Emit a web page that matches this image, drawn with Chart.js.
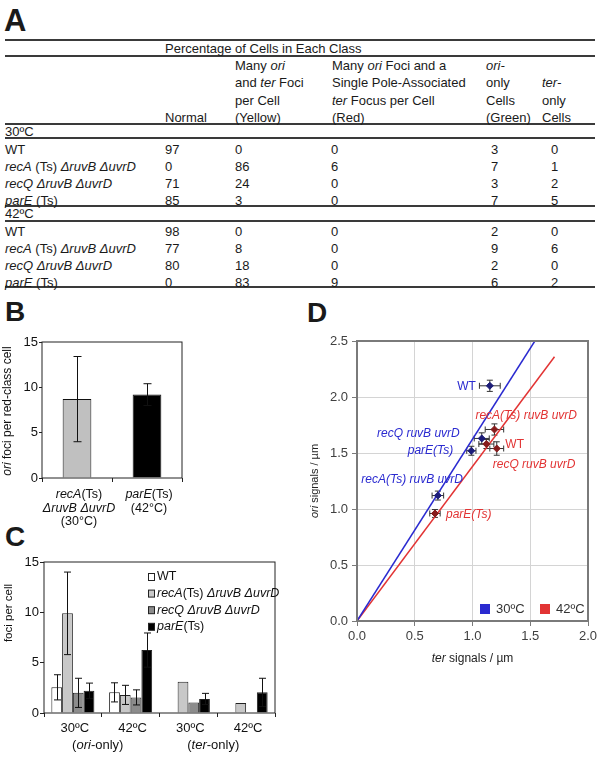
<!DOCTYPE html>
<html>
<head>
<meta charset="utf-8">
<title>ori / ter foci</title>
<script src="https://cdn.jsdelivr.net/npm/chart.js@4.4.1/dist/chart.umd.min.js"></script>
<style>
  body { margin: 0; background: #fff; }
  #page { position: relative; width: 601px; height: 757px; overflow: hidden;
          font-family: "Liberation Sans", Arial, sans-serif; color: #1a1a1a; }
  .panel { position: absolute; font-weight: bold; font-size: 28px; line-height: 28px; }
  .t { position: absolute; font-size: 13px; line-height: 17px; white-space: nowrap; }
  .rule { position: absolute; left: 5px; width: 590px; height: 2px; background: #3a3a3a; }
  canvas { position: absolute; left: 0; top: 0; }
</style>
</head>
<body>
<div id="page">
  <div class="panel" style="left:4px;top:5px;font-size:31px;line-height:31px">A</div>
  <div class="panel" style="left:5px;top:298px">B</div>
  <div class="panel" style="left:5px;top:523px">C</div>
  <div class="panel" style="left:307px;top:299px">D</div>
  <div id="tableA"></div>
  <canvas id="chartB" width="601" height="757"></canvas>
  <canvas id="chartC" width="601" height="757"></canvas>
  <canvas id="chartD" width="601" height="757"></canvas>
</div>
<script>
// ------------------- DATA -------------------
// text between underscores is set in italics

// A: percentage of cells in each class
const classHeads = [
  ['Normal'],
  ['Many _ori_', 'and _ter_ Foci', 'per Cell', '(Yellow)'],
  ['Many _ori_ Foci and a', 'Single Pole-Associated', '_ter_ Focus per Cell', '(Red)'],
  ['_ori-_', 'only', 'Cells', '(Green)'],
  ['_ter-_', 'only', 'Cells']
];
const tableStrains = ['WT', '_recA_ (Ts) _ΔruvB ΔuvrD_', '_recQ ΔruvB ΔuvrD_', '_parE_ (Ts)'];
const temps = ['30ºC', '42ºC'];
const normal30 = [97, 0, 71, 85];
const yellow30 = [0, 86, 24, 3];
const red30 = [0, 6, 0, 0];
const oriOnly30 = [3, 7, 3, 7];
const terOnly30 = [0, 1, 2, 5];
const normal42 = [98, 77, 80, 0];
const yellow42 = [0, 8, 18, 83];
const red42 = [0, 0, 0, 9];
const oriOnly42 = [2, 9, 2, 6];
const terOnly42 = [0, 6, 0, 2];

// B: ori foci per red-class cell
const bLabels = [['_recA_(Ts)', '_ΔruvB ΔuvrD_', '(30°C)'], ['_parE_(Ts)', '(42°C)']];
const bMeans = [8.7, 9.2];
const bErrors = [4.7, 1.2];

// C: foci per cell
const cTemps = ['30ºC', '42ºC', '30ºC', '42ºC'];
const cClasses = ['(_ori_-only)', '(_ter_-only)'];
const cSeries = ['WT', '_recA_(Ts) _ΔruvB ΔuvrD_', '_recQ ΔruvB ΔuvrD_', '_parE_(Ts)'];
const cWT = [2.55, 2.05, null, null];
const cRecA = [9.9, 1.8, 3.1, 1.0];
const cRecQ = [2.0, 1.55, 1.05, null];
const cParE = [2.2, 6.25, 1.4, 2.05];
const cWTErr = [1.25, 0.95, null, null];
const cRecAErr = [4.1, 0.95, null, null];
const cRecQErr = [1.45, 0.75, null, null];
const cParEErr = [0.77, 1.7, 0.55, 1.4];

// D: ori signals vs ter signals (order: WT, recA, recQ, parE)
const dLabels = ['WT', '_recA(Ts) ruvB uvrD_', '_recQ ruvB uvrD_', '_parE(Ts)_'];
const ter30 = [1.15, 0.70, 1.08, 0.99];
const ori30 = [2.10, 1.12, 1.63, 1.52];
const ter30Err = [0.09, 0.05, 0.065, 0.04];
const ori30Err = [0.05, 0.04, 0.05, 0.04];
const ter42 = [1.12, 1.19, 1.21, 0.675];
const ori42 = [1.58, 1.71, 1.54, 0.96];
const ter42Err = [0.065, 0.08, 0.06, 0.045];
const ori42Err = [0.04, 0.05, 0.06, 0.035];
const fitTer30 = [0, 1.54];
const fitOri30 = [0, 2.5];
const fitTer42 = [0, 1.71];
const fitOri42 = [0, 2.36];

// ------------------- TEXT HELPERS -------------------
const FONT = '"Liberation Sans", Arial, sans-serif';
Chart.defaults.font.family = FONT;
Chart.defaults.color = '#111';

function richHtml(s) { return String(s).replace(/_([^_]+)_/g, '<i>$1</i>'); }
function segs(s) { return String(s).split('_').map((t, i) => ({ t, it: i % 2 === 1 })).filter(p => p.t); }
function cfont(size, it) { return (it ? 'italic ' : '') + size + 'px ' + FONT; }
function richWidth(ctx, s, size) {
  let w = 0;
  segs(s).forEach(p => { ctx.font = cfont(size, p.it); w += ctx.measureText(p.t).width; });
  return w;
}
function drawRich(ctx, s, x, y, size, color, align) {
  let cx = x;
  const w = richWidth(ctx, s, size);
  if (align === 'center') cx -= w / 2;
  else if (align === 'right') cx -= w;
  ctx.save();
  ctx.fillStyle = color;
  ctx.textAlign = 'left';
  ctx.textBaseline = 'middle';
  segs(s).forEach(p => {
    ctx.font = cfont(size, p.it);
    ctx.fillText(p.t, cx, y);
    cx += ctx.measureText(p.t).width;
  });
  ctx.restore();
}
function drawRotated(ctx, s, x, y, size, color) {
  ctx.save();
  ctx.translate(x, y);
  ctx.rotate(-Math.PI / 2);
  drawRich(ctx, s, 0, 0, size, color, 'center');
  ctx.restore();
}

// ------------------- TABLE A -------------------
const tableEl = document.getElementById('tableA');
const headX = [165, 235, 332, 486, 542];
const valX = [165, 235, 331, 491, 551];
const ROW = 17.3;

function put(text, x, yc) {
  const d = document.createElement('div');
  d.className = 't';
  d.style.left = x + 'px';
  d.style.top = (yc - 8.5) + 'px';
  d.innerHTML = richHtml(text);
  tableEl.appendChild(d);
}
function rule(y) {
  const d = document.createElement('div');
  d.className = 'rule';
  d.style.top = y + 'px';
  tableEl.appendChild(d);
}

[39, 55, 123, 137, 205, 220, 286].forEach(rule);
put('Percentage of Cells in Each Class', 165, 48);
classHeads.forEach((lines, c) => {
  lines.forEach((ln, j) => put(ln, headX[c], 117.5 - (lines.length - 1 - j) * ROW));
});

const blocks = [
  { temp: temps[0], y: 131, cols: [normal30, yellow30, red30, oriOnly30, terOnly30] },
  { temp: temps[1], y: 213, cols: [normal42, yellow42, red42, oriOnly42, terOnly42] }
];
blocks.forEach(b => {
  put(b.temp, 5, b.y);
  tableStrains.forEach((s, r) => {
    const yc = b.y + 18 + r * ROW;
    put(s, 5, yc);
    b.cols.forEach((col, c) => put(String(col[r]), valX[c], yc));
  });
});

// ------------------- PLUGINS -------------------
const frame = {
  id: 'frame',
  afterDatasetsDraw(chart, args, opts) {
    const a = chart.chartArea, ctx = chart.ctx;
    ctx.save();
    ctx.strokeStyle = opts.color;
    ctx.lineWidth = opts.width;
    ctx.strokeRect(a.left, a.top, a.right - a.left, a.bottom - a.top);
    ctx.restore();
  }
};

const barErrors = {
  id: 'barErrors',
  afterDatasetsDraw(chart, args, opts) {
    const ctx = chart.ctx, ys = chart.scales.y;
    ctx.save();
    ctx.strokeStyle = '#111';
    ctx.lineWidth = 1;
    chart.data.datasets.forEach((ds, di) => {
      if (!ds.err) return;
      chart.getDatasetMeta(di).data.forEach((bar, i) => {
        const v = ds.data[i], e = ds.err[i];
        if (v == null || e == null) return;
        const x = Math.round(bar.x) + 0.5;
        const top = ys.getPixelForValue(v + e), bot = ys.getPixelForValue(v - e);
        ctx.beginPath();
        ctx.moveTo(x, top); ctx.lineTo(x, bot);
        ctx.moveTo(x - opts.cap, top); ctx.lineTo(x + opts.cap, top);
        ctx.moveTo(x - opts.cap, bot); ctx.lineTo(x + opts.cap, bot);
        ctx.stroke();
      });
    });
    ctx.restore();
  }
};

const xyErrors = {
  id: 'xyErrors',
  beforeDatasetsDraw(chart, args, opts) {
    const ctx = chart.ctx, xs = chart.scales.x, ys = chart.scales.y;
    ctx.save();
    ctx.strokeStyle = '#333';
    ctx.lineWidth = 1;
    chart.data.datasets.forEach((ds, di) => {
      if (!ds.xErr) return;
      ds.data.forEach((p, i) => {
        const px = xs.getPixelForValue(p.x), py = ys.getPixelForValue(p.y);
        const x1 = xs.getPixelForValue(p.x - ds.xErr[i]), x2 = xs.getPixelForValue(p.x + ds.xErr[i]);
        const y1 = ys.getPixelForValue(p.y - ds.yErr[i]), y2 = ys.getPixelForValue(p.y + ds.yErr[i]);
        ctx.beginPath();
        ctx.moveTo(x1, py); ctx.lineTo(x2, py);
        ctx.moveTo(x1, py - opts.cap); ctx.lineTo(x1, py + opts.cap);
        ctx.moveTo(x2, py - opts.cap); ctx.lineTo(x2, py + opts.cap);
        ctx.moveTo(px, y1); ctx.lineTo(px, y2);
        ctx.moveTo(px - opts.cap, y1); ctx.lineTo(px + opts.cap, y1);
        ctx.moveTo(px - opts.cap, y2); ctx.lineTo(px + opts.cap, y2);
        ctx.stroke();
      });
    });
    ctx.restore();
  }
};

// ------------------- CHART B -------------------
new Chart(document.getElementById('chartB').getContext('2d'), {
  type: 'bar',
  data: {
    labels: bLabels.map(l => l.join(' ').replace(/_/g, '')),
    datasets: [{
      data: bMeans,
      err: bErrors,
      backgroundColor: ['#c0c0c0', '#000'],
      borderColor: '#111',
      borderWidth: 1,
      barPercentage: 0.41,
      categoryPercentage: 1
    }]
  },
  options: {
    responsive: false,
    animation: false,
    events: [],
    layout: { padding: { left: 12, top: 342, right: 419, bottom: 275 } },
    plugins: {
      legend: { display: false },
      tooltip: { enabled: false },
      frame: { color: '#222', width: 1 },
      barErrors: { cap: 4 }
    },
    scales: {
      x: {
        grid: { drawOnChartArea: false, tickLength: 4, color: '#222' },
        border: { display: false },
        ticks: { display: false },
        afterFit: s => { s.height = 4; }
      },
      y: {
        min: 0, max: 15,
        ticks: { stepSize: 5, padding: 1, color: '#111', font: { size: 13 } },
        grid: { drawOnChartArea: false, tickLength: 3, color: '#222' },
        border: { display: false },
        afterFit: s => { s.width = 30; }
      }
    }
  },
  plugins: [frame, barErrors, {
    id: 'bText',
    afterDraw(chart) {
      const ctx = chart.ctx, meta = chart.getDatasetMeta(0);
      bLabels.forEach((lines, i) => {
        lines.forEach((ln, j) => drawRich(ctx, ln, meta.data[i].x + 2, 495 + j * 13.3, 12.5, '#111', 'center'));
      });
      drawRotated(ctx, '_ori_ foci per red-class cell', 8, 411, 12, '#111');
    }
  }]
});

// ------------------- CHART C -------------------
const cValues = [cWT, cRecA, cRecQ, cParE];
const cErrs = [cWTErr, cRecAErr, cRecQErr, cParEErr];
const cColors = ['#ffffff', '#c8c8c8', '#8c8c8c', '#000000'];

new Chart(document.getElementById('chartC').getContext('2d'), {
  type: 'bar',
  data: {
    labels: cTemps,
    datasets: cSeries.map((name, k) => ({
      label: name,
      data: cValues[k],
      err: cErrs[k],
      backgroundColor: cColors[k],
      borderColor: '#222',
      borderWidth: 1,
      barPercentage: 1,
      categoryPercentage: 0.745
    }))
  },
  options: {
    responsive: false,
    animation: false,
    events: [],
    layout: { padding: { left: 14, top: 562, right: 326, bottom: 40 } },
    plugins: {
      legend: { display: false },
      tooltip: { enabled: false },
      frame: { color: '#222', width: 1 },
      barErrors: { cap: 3.5 }
    },
    scales: {
      x: {
        grid: { drawOnChartArea: false, tickLength: 4, color: '#222' },
        border: { display: false },
        ticks: { display: false },
        afterFit: s => { s.height = 4; }
      },
      y: {
        min: 0, max: 15,
        ticks: { stepSize: 5, padding: 1, color: '#111', font: { size: 13 } },
        grid: { drawOnChartArea: false, tickLength: 4, color: '#222' },
        border: { display: false },
        afterFit: s => { s.width = 30; }
      }
    }
  },
  plugins: [frame, barErrors, {
    id: 'cText',
    afterDraw(chart) {
      const ctx = chart.ctx, xs = chart.scales.x;
      cTemps.forEach((t, i) => drawRich(ctx, t, xs.getPixelForValue(i) + 2, 728, 13, '#111', 'center'));
      cClasses.forEach((t, k) => {
        const mid = (xs.getPixelForValue(2 * k) + xs.getPixelForValue(2 * k + 1)) / 2;
        drawRich(ctx, t, mid - 4, 745, 13, '#111', 'center');
      });
      drawRotated(ctx, 'foci per cell', 9, 613, 11.5, '#111');
      // legend
      chart.data.datasets.forEach((ds, k) => {
        const y = 577 + k * 16.6;
        ctx.save();
        ctx.fillStyle = ds.backgroundColor;
        ctx.strokeStyle = '#222';
        ctx.lineWidth = 1;
        ctx.fillRect(148.5, y - 3.5, 6, 7);
        ctx.strokeRect(148.5, y - 3.5, 6, 7);
        ctx.restore();
        drawRich(ctx, ds.label, 157, y, 12.5, '#111', 'left');
      });
    }
  }]
});

// ------------------- CHART D -------------------
const toPts = (xs, ys) => xs.map((x, i) => ({ x, y: ys[i] }));
const blue = '#2a2ad0', red = '#e23434';
// label placement next to each point: [dx, dy, align]
const place30 = [[-14, 1, 'right'], [25, -16, 'right'], [-22, -5, 'right'], [-18, 0, 'right']];
const place42 = [[19, 1, 'left'], [-19, -14, 'left'], [-4, 16, 'left'], [11, 1, 'left']];

new Chart(document.getElementById('chartD').getContext('2d'), {
  type: 'scatter',
  data: {
    datasets: [
      { label: '30ºC', data: toPts(ter30, ori30), xErr: ter30Err, yErr: ori30Err,
        pointStyle: 'rectRot', pointRadius: 3.5, backgroundColor: '#1c1c78', borderColor: '#1c1c78', textColor: blue, place: place30 },
      { label: '42ºC', data: toPts(ter42, ori42), xErr: ter42Err, yErr: ori42Err,
        pointStyle: 'rectRot', pointRadius: 3.5, backgroundColor: '#861c1c', borderColor: '#861c1c', textColor: red, place: place42 },
      { label: 'fit 30', data: toPts(fitTer30, fitOri30), showLine: true, pointRadius: 0, borderColor: blue, borderWidth: 1.5 },
      { label: 'fit 42', data: toPts(fitTer42, fitOri42), showLine: true, pointRadius: 0, borderColor: red, borderWidth: 1.5 }
    ]
  },
  options: {
    responsive: false,
    animation: false,
    events: [],
    layout: { padding: { left: 325, top: 341, right: 13, bottom: 114 } },
    plugins: {
      legend: { display: false },
      tooltip: { enabled: false },
      frame: { color: '#7a7a7a', width: 2 },
      xyErrors: { cap: 3 }
    },
    scales: {
      x: {
        type: 'linear', min: 0, max: 2,
        ticks: { stepSize: 0.5, padding: 3, color: '#404040', font: { size: 13 }, callback: v => v.toFixed(1) },
        grid: { color: '#d4d4d4', tickColor: '#7a7a7a', tickLength: 5 },
        border: { display: false },
        afterFit: s => { s.height = 22; }
      },
      y: {
        min: 0, max: 2.5,
        ticks: { stepSize: 0.5, padding: 4, color: '#404040', font: { size: 13 }, callback: v => v.toFixed(1) },
        grid: { color: '#d4d4d4', tickColor: '#7a7a7a', tickLength: 5 },
        border: { display: false },
        afterFit: s => { s.width = 32; }
      }
    }
  },
  plugins: [frame, xyErrors, {
    id: 'dText',
    afterDraw(chart) {
      const ctx = chart.ctx;
      [0, 1].forEach(di => {
        const ds = chart.data.datasets[di];
        chart.getDatasetMeta(di).data.forEach((pt, i) => {
          const p = ds.place[i];
          drawRich(ctx, dLabels[i], pt.x + p[0], pt.y + p[1], 12, ds.textColor, p[2]);
        });
      });
      drawRich(ctx, '_ter_ signals / µm', 472.5, 659, 12, '#222', 'center');
      drawRotated(ctx, '_ori_ signals / µm', 315, 481, 11, '#222');
      // legend
      [[2, 480], [3, 540]].forEach(([di, x], k) => {
        const ds = chart.data.datasets[di];
        ctx.fillStyle = ds.borderColor;
        ctx.fillRect(x, 604, 10, 10);
        drawRich(ctx, chart.data.datasets[k].label, x + 16, 609, 13, '#333', 'left');
      });
    }
  }]
});
</script>
</body>
</html>
